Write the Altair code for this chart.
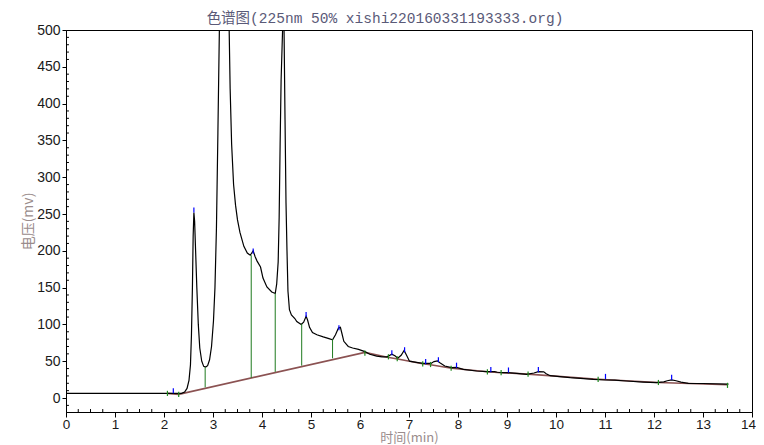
import altair as alt
import pandas as pd

# ---- chromatogram trace (time in min, signal in mV) ----
time = [0.00, 2.00, 2.36, 2.42, 2.47, 2.51, 2.54, 2.56, 2.58, 2.595, 2.61, 2.625, 2.645, 2.67, 2.70,
        2.73, 2.77, 2.81, 2.85, 2.89, 2.93, 2.97, 3.01, 3.04, 3.07, 3.10, 3.13, 3.18, 3.23, 3.28,
        3.33, 3.35, 3.38, 3.42, 3.46, 3.50, 3.55, 3.63, 3.70, 3.76, 3.80, 3.82, 3.86, 3.90, 3.97,
        4.02, 4.10, 4.20, 4.27, 4.30, 4.33, 4.35, 4.37, 4.39, 4.42, 4.435, 4.45, 4.47, 4.49, 4.51,
        4.53, 4.56, 4.60, 4.67, 4.71, 4.80, 4.85, 4.90, 4.93, 4.97, 5.03, 5.12, 5.25, 5.35, 5.44,
        5.50, 5.56, 5.60, 5.63, 5.67, 5.76, 5.85, 5.97, 6.10, 6.20, 6.34, 6.45, 6.55, 6.65, 6.72,
        6.77, 6.84, 6.90, 6.95, 7.01, 7.15, 7.29, 7.45, 7.51, 7.58, 7.63, 7.73, 7.87, 7.97, 8.11,
        8.38, 8.59, 8.75, 8.80, 8.92, 9.00, 9.20, 9.40, 9.55, 9.64, 9.75, 9.80, 9.88, 10.08, 10.29,
        10.50, 10.76, 11.03, 11.20, 11.44, 11.78, 12.05, 12.20, 12.27, 12.36, 12.45, 12.55, 12.70,
        13.00, 13.52]
signal = [6.3, 6.3, 6.3, 8, 13, 24, 45, 85, 150, 220, 252, 240, 200, 150, 100,
          68, 50, 43, 42, 44, 52, 70, 105, 150, 230, 360, 500, 640, 650, 620,
          500, 420, 345, 290, 262, 242, 225, 206, 197, 194, 198, 200, 192, 186, 178,
          163, 151, 144, 142, 155, 185, 245, 345, 432, 500, 580, 500, 378, 265, 200,
          145, 120, 113, 108, 104, 100, 103, 111, 106, 96, 89, 86, 83, 81, 79,
          86, 95, 96, 88, 77, 70, 68, 66, 63, 59.5, 57, 56, 56, 59.5, 57,
          54, 58, 64.5, 58, 50, 48.5, 47, 47, 49.5, 50.5, 48, 43.5, 41.2, 41.5, 39,
          36.7, 35.8, 35.8, 35, 34.4, 34.6, 33.5, 32.2, 34, 35.8, 35.5, 33, 30.3, 29, 27.6,
          26.8, 25.4, 24.5, 24.3, 23.1, 21.7, 20.8, 22, 23.5, 24.5, 23.5, 21.5, 20,
          19.7, 19]

# ---- integration baseline ----
base_t = [2.07, 2.30, 6.10, 6.56, 6.77, 7.28, 7.44, 7.87, 8.60, 8.88, 9.43, 10.86, 12.09, 13.50]
base_v = [6.3, 5.0, 62.0, 55.5, 53.0, 46.5, 45.3, 40.5, 35.6, 34.4, 32.4, 25.4, 21.1, 18.0]

# ---- peak apex markers (blue) ----
peak_t = [2.19, 2.61, 3.82, 4.90, 5.57, 6.65, 6.91, 7.34, 7.60, 7.97, 8.67, 9.03, 9.64, 11.01, 12.36]
peak_v = [6.4, 252, 196, 110, 92, 58, 62, 46, 48.5, 41, 35, 34.5, 35, 25.8, 24.5]

# ---- peak start / end markers (green) ----
edge_t = [2.07, 2.30, 6.10, 6.58, 6.76, 7.28, 7.44, 7.86, 8.60, 8.88, 9.43, 10.86, 12.09, 13.50]
edge_v = [6.3, 5.0, 61.0, 56.0, 53.4, 46.4, 45.5, 40.5, 35.6, 34.4, 32.4, 25.4, 21.1, 17.2]

# ---- drop lines (green) ----
drop_t = [2.84, 3.78, 4.27, 4.81, 5.44]
drop_lo = [14.5, 27.5, 35.5, 44.0, 54.0]
drop_hi = [42, 194, 142, 101, 80]

# ---- axis ticks ----
x_major = list(range(0, 15))
x_minor = [i / 4 for i in range(0, 57) if i % 4]
y_major = list(range(0, 501, 50))
y_minor = [v for v in range(-10, 500, 10) if v % 50]

X_MIN, X_MAX = 0, 14
Y_MIN, Y_MAX = -19, 500
X_TICK_LEN = 0.06   # minutes (about 3 px)
Y_TICK_LEN = 4.0    # mV (about 3 px)

trace = pd.DataFrame({"t": time, "v": signal})
base = pd.DataFrame({"t": base_t, "v": base_v})
peaks = pd.DataFrame({"t": peak_t, "v": peak_v, "hi": [v + 7 for v in peak_v]})
edges = pd.DataFrame({"t": edge_t, "v": [v - 3.5 for v in edge_v], "hi": [v + 3.5 for v in edge_v]})
drops = pd.DataFrame({"t": drop_t, "v": drop_lo, "hi": drop_hi})
xmin_df = pd.DataFrame({"t": x_minor, "v": [Y_MIN] * len(x_minor), "hi": [Y_MIN + Y_TICK_LEN] * len(x_minor)})
ymin_df = pd.DataFrame({"t": [X_MIN] * len(y_minor), "t2": [X_MIN + X_TICK_LEN] * len(y_minor), "v": y_minor})

xscale = alt.Scale(domain=[X_MIN, X_MAX], nice=False, zero=False)
yscale = alt.Scale(domain=[Y_MIN, Y_MAX], nice=False, zero=False)

LABEL_FONT = "Liberation Sans"
CJK_FONT = "Noto Sans CJK SC"

x_axis = alt.Axis(
    values=x_major,
    format="d",
    labelOverlap=False,
    labelFlush=False,
    labelFont=LABEL_FONT,
    labelFontSize=13.5,
    labelColor="#1a1a1a",
    labelPadding=0,
    labelOffset={"condition": {"test": "datum.value == 14", "value": -4}, "value": 0},
    tickColor="black",
    tickSize=5,
    domainColor="black",
    grid=False,
    title="时间(min)",
    titleFont=CJK_FONT,
    titleFontSize=13,
    titleFontWeight="normal",
    titleColor="#9a8c8c",
    titlePadding=1,
)
y_axis = alt.Axis(
    values=y_major,
    labelFont=LABEL_FONT,
    labelFontSize=14,
    labelColor="#1a1a1a",
    labelPadding=2,
    tickColor="black",
    tickSize=4,
    domainColor="black",
    grid=False,
    title="电压(mv)",
    titleFont=CJK_FONT,
    titleFontSize=14,
    titleFontWeight="normal",
    titleColor="#9a8c8c",
    titlePadding=1,
)

X = alt.X("t:Q", scale=xscale, axis=x_axis, title="时间(min)")
Y = alt.Y("v:Q", scale=yscale, axis=y_axis, title="电压(mv)")

trace_layer = alt.Chart(trace).mark_line(color="black", strokeWidth=1.2, clip=True).encode(x=X, y=Y)
base_layer = alt.Chart(base).mark_line(color="#8b5252", strokeWidth=1.6, clip=True).encode(x=X, y=Y)
drop_layer = alt.Chart(drops).mark_rule(color="#1f7a1f", strokeWidth=1, clip=True).encode(
    x=X, y=Y, y2="hi:Q"
)
edge_layer = alt.Chart(edges).mark_rule(color="#1f8a1f", strokeWidth=1.2, clip=True).encode(
    x=X, y=Y, y2="hi:Q"
)
peak_layer = alt.Chart(peaks).mark_rule(color="#0000ff", strokeWidth=1.2, clip=True).encode(
    x=X, y=Y, y2="hi:Q"
)
xminor_layer = alt.Chart(xmin_df).mark_rule(color="black", strokeWidth=1).encode(
    x=X, y=Y, y2="hi:Q"
)
yminor_layer = alt.Chart(ymin_df).mark_rule(color="black", strokeWidth=1).encode(
    x=X, x2="t2:Q", y=Y
)

chart = alt.layer(
    base_layer, trace_layer, drop_layer, edge_layer, peak_layer, xminor_layer, yminor_layer
).properties(
    width=686,
    height=382,
    autosize="none",
    padding={"left": 58, "top": 22, "right": 4, "bottom": 33},
    background="white",
    title=alt.TitleParams(
        text="色谱图(225nm 50% xishi220160331193333.org)",
        font="Liberation Mono, Noto Sans CJK SC",
        fontSize=14.5,
        fontWeight="normal",
        color="#5a5a78",
        anchor="middle",
        dx=-24,
        offset=-3,
    ),
).configure_view(stroke="black", strokeWidth=1)

chart.save("out.html", embed_options={"renderer": "svg", "actions": False})
